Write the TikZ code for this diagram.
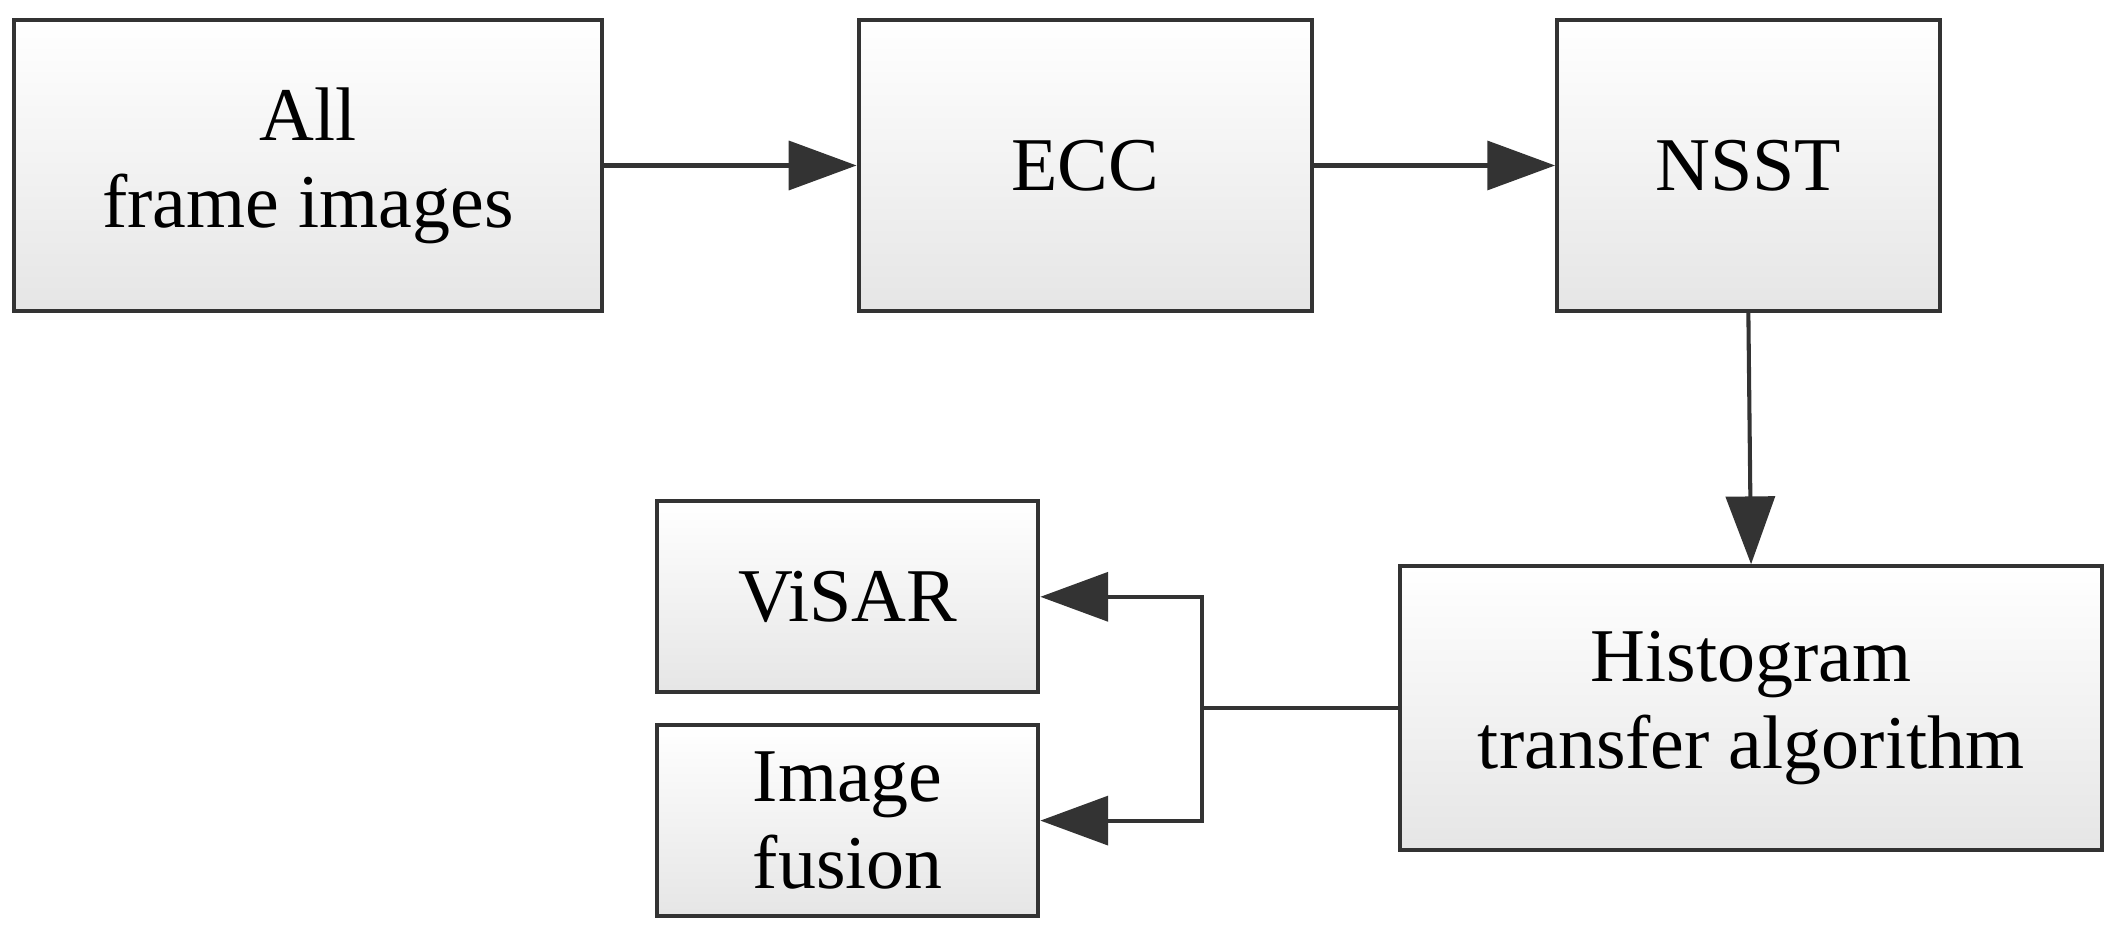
\documentclass[tikz,border=0pt]{standalone}
\usepackage{fontspec}
\setmainfont{Liberation Serif}
\usetikzlibrary{arrows.meta}
\begin{document}
\begin{tikzpicture}[x=1pt,y=-1pt,
  boxst/.style={draw=black!80,line width=3pt,top color=white,bottom color=black!10,inner sep=0pt,align=center,font=\fontsize{56}{64}\selectfont},
  arr/.style={draw=black!80,line width=3pt,-{Triangle[length=50pt,width=36pt]}}]
\useasboundingbox (0,0) rectangle (1563,685);
\node[boxst,minimum width=434pt,minimum height=214pt] (a) at (227,122) {All\\frame images};
\node[boxst,minimum width=334pt,minimum height=214pt] (b) at (800,122) {ECC};
\node[boxst,minimum width=282pt,minimum height=214pt] (c) at (1289,122) {NSST};
\node[boxst,minimum width=518pt,minimum height=209pt] (d) at (1291,522) {Histogram\\transfer algorithm};
\node[boxst,minimum width=281pt,minimum height=141pt] (e) at (625,440) {ViSAR};
\node[boxst,minimum width=281pt,minimum height=141pt] (f) at (625,605) {Image\\fusion};
\coordinate (j) at (886,522);
\draw[arr] (a.east) -- (b.west);
\draw[arr] (b.east) -- (c.west);
\draw[arr] (c.south) -- (d.north);
\draw[draw=black!80,line width=3pt] (d.west) -- (j);
\draw[arr] (j) |- (e.east);
\draw[arr] (j) |- (f.east);
\end{tikzpicture}
\end{document}
